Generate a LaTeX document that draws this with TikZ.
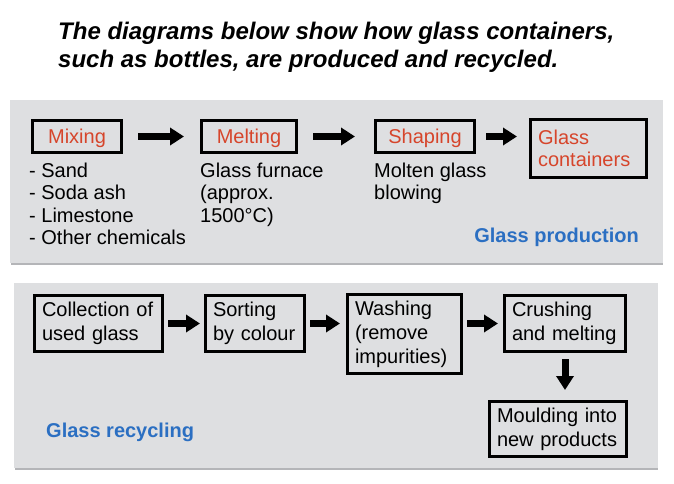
\documentclass[tikz,border=0pt]{standalone}
\usepackage{fontspec}
\setmainfont{Liberation Sans}
\usetikzlibrary{arrows.meta}
\definecolor{panelgray}{HTML}{DEDFE1}
\definecolor{shadowgray}{HTML}{B4B5B8}
\definecolor{stagered}{HTML}{D6452B}
\definecolor{labelblue}{HTML}{2B6FC2}
\begin{document}
\begin{tikzpicture}[x=1pt,y=-1pt,
        txt/.style={font=\fontsize{20}{22.6}\selectfont,inner sep=0pt,anchor=north west,align=left},
        stage/.style={draw,line width=3pt,font=\fontsize{20}{22.6}\selectfont,text=stagered},
        stage label/.style={stage,minimum height=32pt,text depth=0pt},
        step box/.style={draw,line width=3pt,font=\fontsize{20}{24}\selectfont,align=left,inner xsep=7.5pt},
        pushto/.style={line width=7pt,-{Triangle[width=17pt,length=14pt]}},
        tag/.style={font=\fontsize{20}{24}\selectfont\bfseries,text=labelblue,inner sep=0pt}]
        \useasboundingbox (0,0) rectangle (674,484);
        % title
        \node[anchor=north west,inner sep=0pt,align=left,font=\fontsize{24}{28}\selectfont\bfseries\itshape]
            (title) at (58,21.5) {The diagrams below show how glass containers,\\such as bottles, are produced and recycled.};
        % panels
        \fill[shadowgray] (11,102) rectangle (663,265);
        \fill[panelgray] (10,100) rectangle (663,263);
        \fill[shadowgray] (15,285) rectangle (658,470);
        \fill[panelgray] (14,283) rectangle (658,468);
        % production
        \node[stage label,minimum width=89pt] (mixing) at (77,136.5) {Mixing};
        \node[stage label,minimum width=95pt] (melting) at (249,136.5) {Melting};
        \node[stage label,minimum width=99pt] (shaping) at (425,136.5) {Shaping};
        \node[stage,text width=101pt,inner xsep=7.5pt,minimum height=58pt,align=left] (containers) at (588.5,148.5) {Glass\\containers};
        \node[txt] (inputs) at (29,162.5) {- Sand\\- Soda ash\\- Limestone\\- Other chemicals};
        \node[txt] (furnace) at (200,162.5) {Glass furnace\\(approx.\\1500°C)};
        \node[txt] (blowing) at (374,162.5) {Molten glass\\blowing};
        \node[tag,anchor=base east] (production) at (639,242) {Glass production};
        \draw[pushto,shorten <=15pt,shorten >=16pt] (mixing) -- (melting);
        \draw[pushto,shorten <=15pt,shorten >=19pt] (melting) -- (shaping);
        \draw[pushto,shorten <=10pt,shorten >=12pt] (shaping.east) -- (shaping.east -| containers.west);
        % recycling
        \node[step box,text width=113pt,minimum height=56pt] (collect) at (98.5,323.5) {Collection of\\used glass};
        \node[step box,text width=84pt,minimum height=56pt] (sorting) at (255,323.5) {Sorting\\by colour};
        \node[step box,text width=99pt,minimum height=79pt] (washing) at (404.5,334) {Washing\\(remove\\impurities)};
        \node[step box,text width=106pt,minimum height=56pt] (crushing) at (565,323.5) {Crushing\\and melting};
        \node[step box,text width=122pt,minimum height=55pt] (moulding) at (558,429) {Moulding into\\new products};
        \node[tag,anchor=base west] (recycling) at (46,437) {Glass recycling};
        \draw[pushto,shorten <=4pt,shorten >=4pt] (collect) -- (sorting);
        \draw[pushto,shorten <=4pt,shorten >=6pt] (sorting.east) -- (sorting.east -| washing.west);
        \draw[pushto,shorten <=4pt,shorten >=5pt] (washing.east |- crushing.west) -- (crushing.west);
        \draw[pushto,shorten <=6pt,shorten >=10pt] (crushing) -- (crushing |- moulding.north);
\end{tikzpicture}
\end{document}
